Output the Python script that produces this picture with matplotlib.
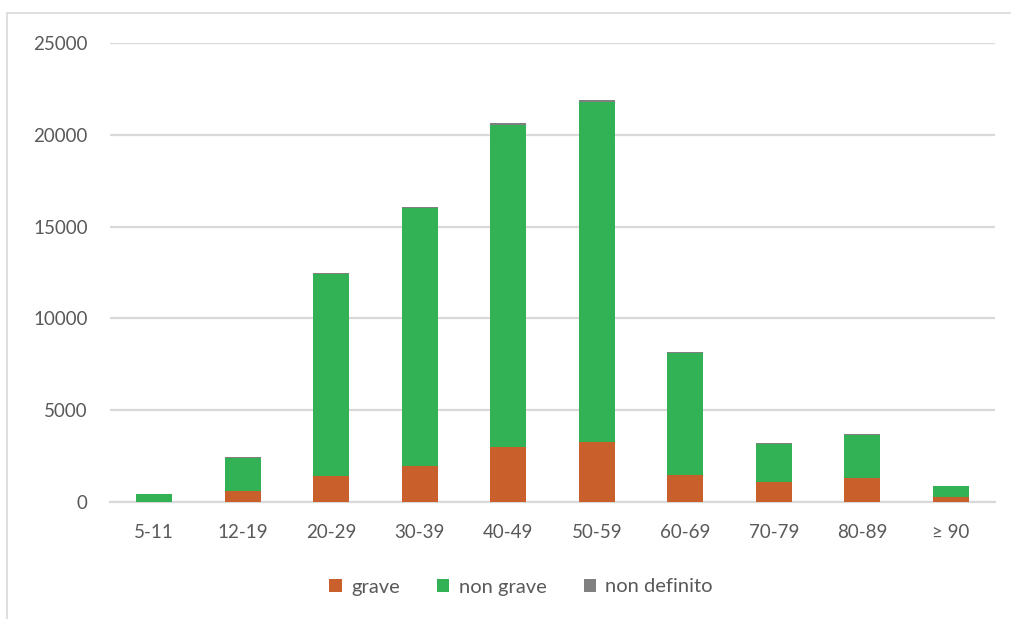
import matplotlib
matplotlib.use("Agg")
import matplotlib.pyplot as plt
from matplotlib.patches import Rectangle
import numpy as np

# Age groups and case counts by severity
categories = ["5-11", "12-19", "20-29", "30-39", "40-49", "50-59", "60-69", "70-79", "80-89", "≥ 90"]
grave = [10, 615, 1420, 1980, 2995, 3270, 1455, 1105, 1325, 270]
non_grave = [416, 1770, 11010, 14045, 17565, 18540, 6665, 2060, 2325, 575]
non_definito = [10, 50, 60, 60, 70, 70, 50, 30, 40, 10]
y_ticks = [0, 5000, 10000, 15000, 20000, 25000]

col_grave = "#C9602B"
col_non_grave = "#33B155"
col_non_def = "#808080"
text_col = "#595959"
grid_col = "#D9D9D9"

plt.rcParams["font.family"] = ["Lato", "DejaVu Sans"]

fig = plt.figure(figsize=(10.11, 6.19), dpi=100)
W, H = 1011, 619

# outer chart frame
fig.patches.append(Rectangle((7 / W, -0.05), 1.2, 1 - 13 / H + 0.05, transform=fig.transFigure,
                             fill=False, edgecolor="#D9D9D9", linewidth=1.2, zorder=0))

ax = fig.add_axes([110 / W, 1 - 502 / H, (995 - 110) / W, (502 - 43) / H])
x = np.arange(len(categories))
w = 0.41
bottom2 = np.array(grave)
bottom3 = bottom2 + np.array(non_grave)
ax.bar(x, grave, w, color=col_grave, linewidth=0, label="grave", zorder=3)
ax.bar(x, non_grave, w, bottom=bottom2, color=col_non_grave, linewidth=0,
       label="non grave", zorder=3)
ax.bar(x, non_definito, w, bottom=bottom3, color=col_non_def, linewidth=0,
       label="non definito", zorder=3)

ax.set_xlim(-0.5, len(categories) - 0.5)
ax.set_ylim(0, 25000)
ax.set_yticks(y_ticks)
ax.set_yticklabels([str(v) for v in y_ticks])
ax.set_xticks(x)
ax.set_xticklabels(categories)
ax.yaxis.grid(True, color=grid_col, linewidth=1.6, zorder=0)
ax.set_axisbelow(True)
for s in ["top", "right", "left"]:
    ax.spines[s].set_visible(False)
ax.spines["bottom"].set_color(grid_col)
ax.spines["bottom"].set_linewidth(1.6)
ax.tick_params(axis="both", length=0, labelsize=13.5, labelcolor=text_col)
ax.tick_params(axis="y", pad=16)
ax.tick_params(axis="x", pad=16)

leg = fig.legend(loc="center", bbox_to_anchor=(521 / W, 1 - 587 / H), ncol=3, frameon=False,
                 fontsize=14.5, handlelength=0.62, handleheight=0.62, handletextpad=0.45,
                 columnspacing=1.85)
for t in leg.get_texts():
    t.set_color(text_col)

fig.savefig("out.png", dpi=100)
